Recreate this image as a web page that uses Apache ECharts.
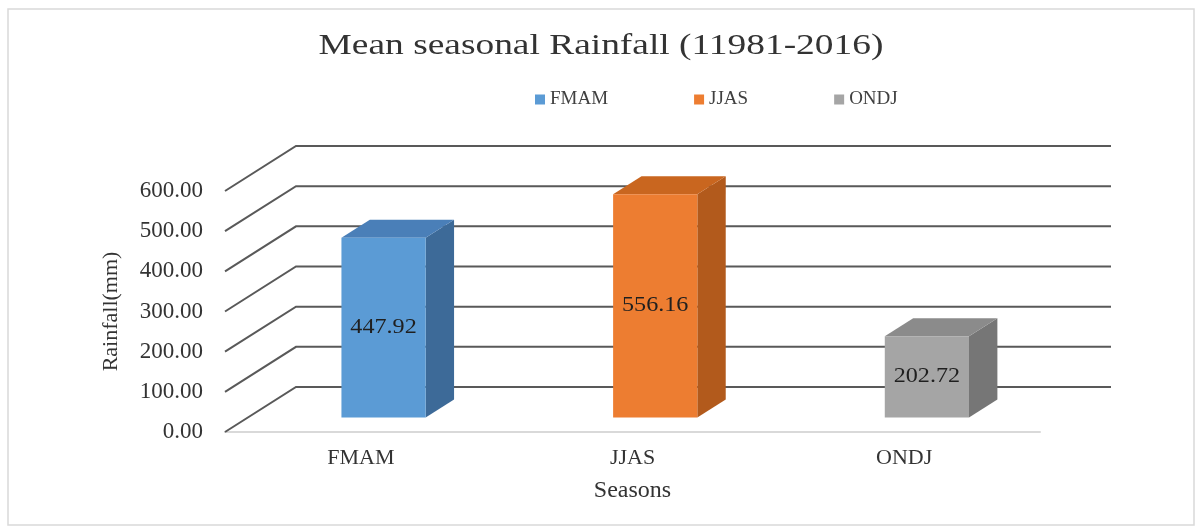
<!DOCTYPE html>
<html>
<head>
<meta charset="utf-8">
<title>Mean seasonal Rainfall</title>
<script src="https://cdn.jsdelivr.net/npm/echarts@6/dist/echarts.min.js"></script>
<style>
  html, body { margin: 0; padding: 0; background: #ffffff; }
  #chart { width: 1197px; height: 529px; }
</style>
</head>
<body>
<div id="chart"></div>
<script>
// Seasons and their mean rainfall (mm)
const seasons = ['FMAM', 'JJAS', 'ONDJ'];
const rainfall = [447.92, 556.16, 202.72];
// Value-axis gridline levels
const yTicks = [0, 100, 200, 300, 400, 500, 600];

// Face colours per season: front, top, side
const faceColors = {
  FMAM: ['#5b9bd5', '#4a7fb8', '#3d6a98'],
  JJAS: ['#ed7d31', '#c9661f', '#b25a1c'],
  ONDJ: ['#a5a5a5', '#8b8b8b', '#767676']
};

// Oblique projection of the floor depth
const DEPTH_X = 71, DEPTH_Y = -45;
const BAR_FRONT = 0.32, BAR_BACK = 0.72, BAR_WIDTH = 0.31;
const SERIF = '"Liberation Serif", "Times New Roman", serif';
const TEXT = '#333333';

const chart = echarts.init(document.getElementById('chart'), null, { renderer: 'canvas' });

// Gridlines: a diagonal on the side wall followed by a line across the back wall
function renderGridline(params, api) {
  const sys = params.coordSys;
  const y = api.coord([0, api.value(1)])[1];
  const x0 = sys.x;
  const x1 = sys.x + DEPTH_X;
  const y1 = y + DEPTH_Y;
  const x2 = sys.x + sys.width + DEPTH_X;
  return {
    type: 'polyline',
    shape: { points: [[x0, y], [x1, y1], [x2, y1]] },
    style: { stroke: '#595959', lineWidth: 2, fill: null },
    silent: true
  };
}

// 3D box for one season: front face, top face, right side and the value on the front
function renderBox(params, api) {
  const idx = api.value(0);
  const val = api.value(1);
  const top = api.coord([idx, val]);
  const base = api.coord([idx, 0]);
  const band = api.size([1, 0])[0];
  const w = band * BAR_WIDTH;
  const fx = top[0] - w / 2 + DEPTH_X * BAR_FRONT;
  const fyTop = top[1] + DEPTH_Y * BAR_FRONT;
  const fyBot = base[1] + DEPTH_Y * BAR_FRONT;
  const dx = DEPTH_X * (BAR_BACK - BAR_FRONT);
  const dy = DEPTH_Y * (BAR_BACK - BAR_FRONT);
  const cols = faceColors[seasons[idx]];
  return {
    type: 'group',
    children: [
      {
        type: 'polygon',
        shape: { points: [[fx + w, fyTop], [fx + w + dx, fyTop + dy], [fx + w + dx, fyBot + dy], [fx + w, fyBot]] },
        style: { fill: cols[2] }
      },
      {
        type: 'polygon',
        shape: { points: [[fx, fyTop], [fx + dx, fyTop + dy], [fx + w + dx, fyTop + dy], [fx + w, fyTop]] },
        style: { fill: cols[1] }
      },
      {
        type: 'rect',
        shape: { x: fx, y: fyTop, width: w, height: fyBot - fyTop },
        style: { fill: cols[0] }
      },
      {
        type: 'text',
        x: fx + w / 2,
        y: (fyTop + fyBot) / 2,
        scaleX: 1.15,
        style: {
          text: val.toFixed(2),
          x: 0,
          y: 0,
          align: 'center',
          verticalAlign: 'middle',
          fill: '#1f1f1f',
          font: '21px ' + SERIF
        }
      }
    ]
  };
}

const boxSeries = seasons.map(function (name, i) {
  return {
    name: name,
    type: 'custom',
    renderItem: renderBox,
    encode: { x: 0, y: 1 },
    itemStyle: { color: faceColors[name][0] },
    data: [[i, rainfall[i]]],
    z: 5
  };
});

const option = {
  animation: false,
  backgroundColor: '#ffffff',
  legend: {
    top: 85,
    left: 530,
    data: seasons,
    icon: 'rect',
    itemWidth: 10,
    itemHeight: 10,
    itemGap: 86,
    textStyle: { fontFamily: SERIF, fontSize: 19, color: '#404040' }
  },
  grid: { left: 225, right: 157, top: 191, bottom: 97, containLabel: false },
  xAxis: {
    type: 'category',
    data: seasons,
    name: 'Seasons',
    nameLocation: 'middle',
    nameGap: 47,
    nameTextStyle: { fontFamily: SERIF, fontSize: 24, color: TEXT },
    axisLine: { show: true, lineStyle: { color: '#d9d9d9', width: 2 } },
    axisTick: { show: false },
    axisLabel: { margin: 15, fontFamily: SERIF, fontSize: 22, color: TEXT },
    splitLine: { show: false }
  },
  yAxis: {
    type: 'value',
    min: 0,
    max: 600,
    interval: 100,
    name: 'Rainfall(mm)',
    nameLocation: 'middle',
    nameRotate: 90,
    nameGap: 103,
    nameTextStyle: { fontFamily: SERIF, fontSize: 22, color: TEXT },
    axisLine: { show: false },
    axisTick: { show: false },
    splitLine: { show: false },
    axisLabel: {
      margin: 22,
      fontFamily: SERIF,
      fontSize: 23,
      color: TEXT,
      formatter: function (v) { return v.toFixed(2); }
    }
  },
  graphic: [
    {
      type: 'rect',
      shape: { x: 8, y: 9, width: 1186, height: 516 },
      style: { fill: null, stroke: '#d9d9d9', lineWidth: 1.5 },
      silent: true,
      z: -10
    },
    {
      // chart title, drawn wide
      type: 'text',
      x: 601,
      y: 46,
      scaleX: 1.29,
      style: {
        text: 'Mean seasonal Rainfall (11981-2016)',
        x: 0,
        y: 0,
        align: 'center',
        verticalAlign: 'middle',
        fill: '#333333',
        font: '29px ' + SERIF
      },
      silent: true
    }
  ],
  series: [
    {
      name: 'gridlines',
      type: 'custom',
      renderItem: renderGridline,
      encode: { x: 0, y: 1 },
      data: yTicks.map(function (v) { return [0, v]; }),
      silent: true,
      z: 1
    }
  ].concat(boxSeries)
};

chart.setOption(option);
</script>
</body>
</html>
